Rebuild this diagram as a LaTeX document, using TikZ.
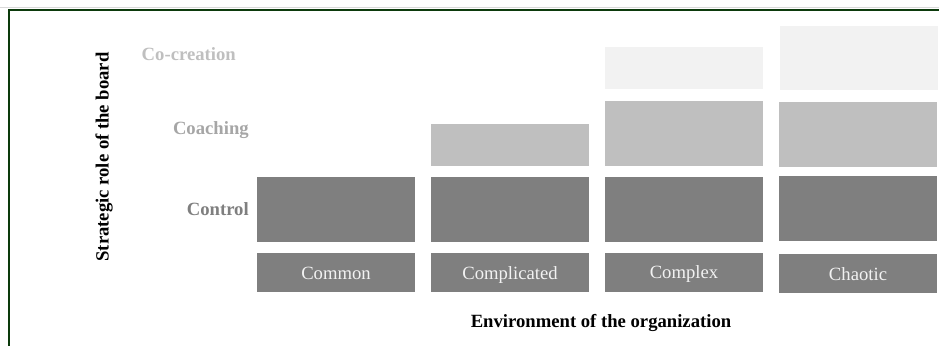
\documentclass[tikz,border=0pt]{standalone}
\usepackage{fontspec}
\setmainfont{Liberation Serif}
\usepackage{tikz}
\usetikzlibrary{calc}
\definecolor{framegreen}{RGB}{12,58,12}
\definecolor{tierdark}{RGB}{127,127,127}
\definecolor{tiermid}{RGB}{191,191,191}
\definecolor{tierlight}{RGB}{242,242,242}
\def\tier[#1](#2,#3)(#4,#5){\fill[#1] (#2,#3) rectangle (#4,#5);}

\begin{document}
\begin{tikzpicture}[x=0.75pt, y=-0.75pt,
		every node/.style={inner sep=0pt, font=\fontsize{14}{17}\selectfont},
		rolelabel/.style={font=\fontsize{14}{17}\selectfont\bfseries, anchor=base east},
		envlabel/.style={text=tierlight, anchor=base}]
		%%%%% START %%%%%
		
		\useasboundingbox (0, 0) rectangle (939, 346);
		\draw[line width=0.5pt, color=black!15] (0, 7.5) -- (939, 7.5);
		\draw[line width=1.5pt, color=framegreen] (939, 10) -- (8.5, 10) -- (8.5, 346);
		
		% control row
		\tier[tierdark](257, 177)(415, 241.5);
		\tier[tierdark](431, 177)(589, 241.5);
		\tier[tierdark](605, 177)(763, 241.5);
		\tier[tierdark](779, 176)(937, 240.5);
		
		% coaching row
		\tier[tiermid](431, 124)(589, 165.5);
		\tier[tiermid](605, 101)(763, 165.5);
		\tier[tiermid](779, 102)(937, 166.5);
		
		% co-creation row
		\tier[tierlight](605, 47)(763, 89);
		\tier[tierlight](780, 26)(938, 90.5);
		
		% environments
		\tier[tierdark](257, 253)(415, 291.5);
		\tier[tierdark](431, 253)(589, 291.5);
		\tier[tierdark](605, 253)(763, 291.5);
		\tier[tierdark](779, 254)(937, 292.5);
		\node[envlabel] (common) at (336, 279) {Common};
		\node[envlabel] (complicated) at (510, 279) {Complicated};
		\node[envlabel] (complex) at (684, 278.5) {Complex};
		\node[envlabel] (chaotic) at (858, 280) {Chaotic};
		
		% roles of the board
		\node[rolelabel, color=tiermid] (cocreation) at (236, 61) {Co-creation};
		\node[rolelabel, color=black!35] (coaching) at (249, 134) {Coaching};
		\node[rolelabel, color=tierdark] (control) at (249, 215) {Control};
		
		% axis titles
		\node[font=\fontsize{14}{17}\selectfont\bfseries, rotate=90, anchor=base] (roleaxis) at (108.5, 157) {Strategic role of the board};
		\node[font=\fontsize{14}{17}\selectfont\bfseries, anchor=base] (envaxis) at (601, 327) {Environment of the organization};
		
		%%%%% END %%%%%
	\end{tikzpicture}
\end{document}
